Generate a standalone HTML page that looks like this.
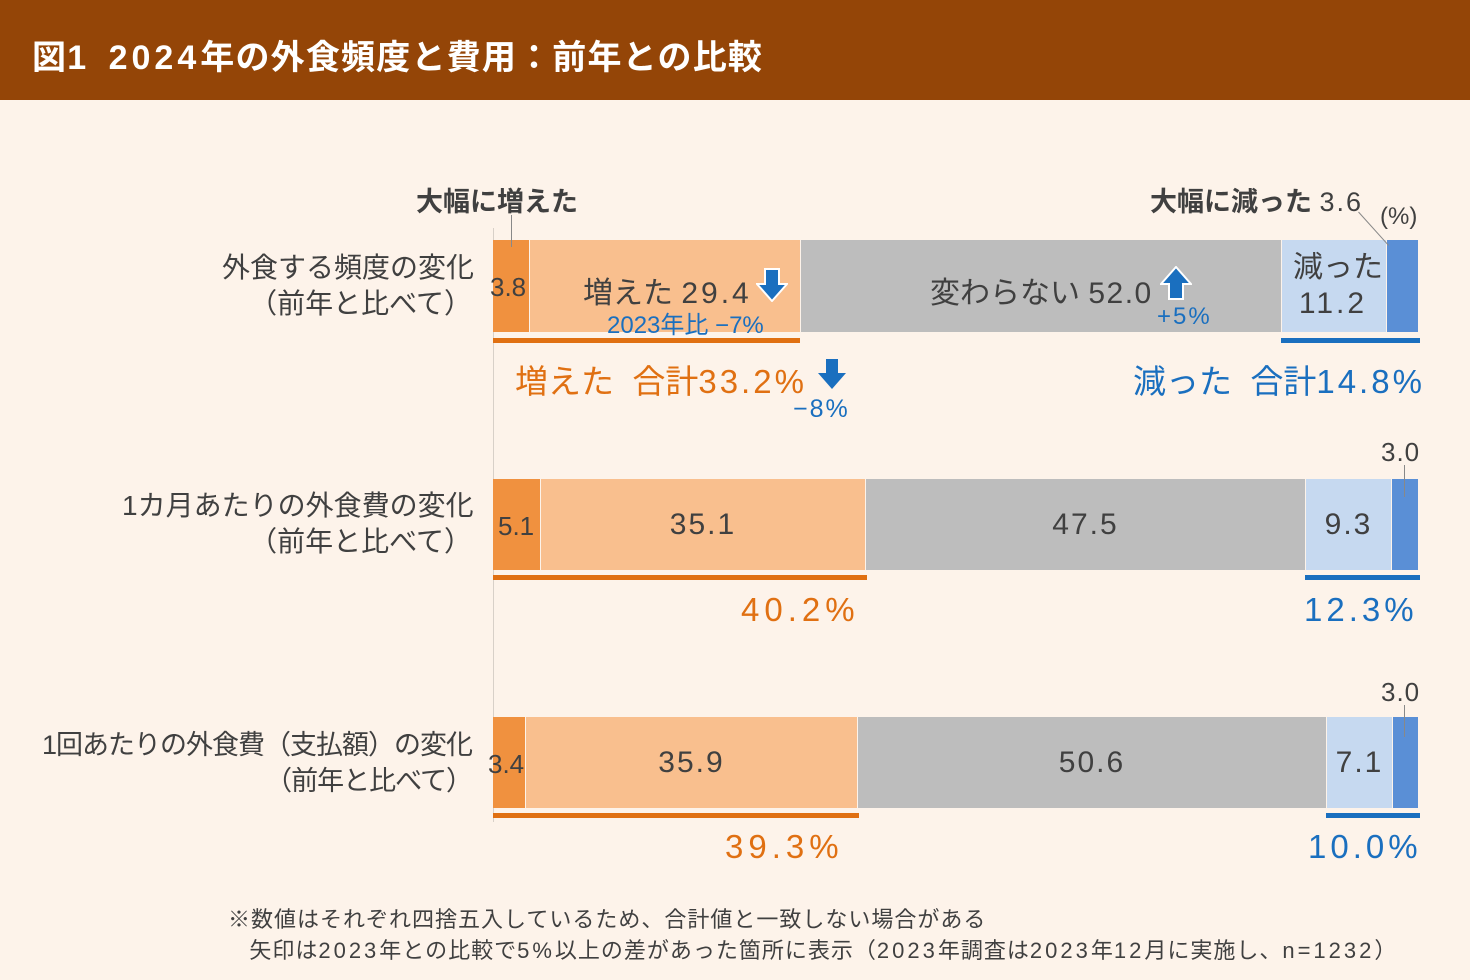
<!DOCTYPE html>
<html><head><meta charset="utf-8"><style>
body{margin:0;width:1470px;height:980px;background:#fdf3ea;position:relative;overflow:hidden;font-family:"Liberation Sans","Noto Sans CJK JP",sans-serif;color:#404040}
.a{position:absolute;white-space:nowrap}
.hd{left:0;top:0;width:1470px;height:100px;background:#944507}
.s{position:absolute}
.c{text-align:center;font-size:30px;line-height:92px;letter-spacing:2px}
.o{color:#e07012}.b{color:#1a6fbf}
.n{letter-spacing:3px}
</style></head><body>
<div class="a hd"></div>
<div class="a" style="left:32px;top:30px;font-size:34px;font-weight:bold;color:#fff;letter-spacing:1.2px">図1&nbsp; <span style="letter-spacing:4px">2024</span>年の外食頻度と費用：前年との比較</div>
<div class="a" style="left:493px;top:228px;width:1px;height:594px;background:#d8d0c8"></div>

<!-- row1 -->
<div class="s" style="left:493px;top:240px;width:36px;height:92px;background:#f0913f"></div>
<div class="s" style="left:530px;top:240px;width:270px;height:92px;background:#f9bf8e"></div>
<div class="s" style="left:801px;top:240px;width:480px;height:92px;background:#bdbdbd"></div>
<div class="s" style="left:1282px;top:240px;width:104px;height:92px;background:#c6d9f0"></div>
<div class="s" style="left:1387px;top:240px;width:31px;height:92px;background:#5a8fd6"></div>
<div class="s" style="left:493px;top:338px;width:307px;height:5px;background:#e07012"></div>
<div class="s" style="left:1281px;top:338px;width:139px;height:5px;background:#1a6fbf"></div>
<div class="a" style="left:490px;top:272px;font-size:26px">3.8</div>
<div class="a" style="left:583px;top:268px;font-size:30px">増えた <span class="n">29.4</span></div>
<div class="a b" style="left:607px;top:305px;font-size:24px">2023年比 −7%</div>
<div class="a" style="left:930px;top:268px;font-size:30px">変わらない <span style="letter-spacing:1.5px">52.0</span></div>
<div class="a b" style="left:1157px;top:303px;font-size:24px;letter-spacing:2px">+5%</div>
<div class="a" style="left:1293px;top:250px;font-size:30px;line-height:36px;text-align:center;width:80px">減った<br><span class="n">11.2</span></div>
<div class="a" style="left:416px;top:180px;font-size:27px;font-weight:bold">大幅に増えた</div>
<div class="s" style="left:511px;top:215px;width:1px;height:32px;background:#888"></div>
<div class="a" style="left:1150px;top:180px;font-size:27px"><b>大幅に減った</b> <span style="letter-spacing:2px">3.6</span></div>
<div class="a" style="left:1380px;top:203px;font-size:24px">(%)</div>
<div class="s" style="left:1358px;top:212px;width:1px;height:45px;background:#888;transform:rotate(-42deg);transform-origin:top"></div>
<div class="a o" style="left:515px;top:355px;font-size:33px">増えた&nbsp; 合計<span style="letter-spacing:3px">33.2%</span></div>
<div class="a b" style="left:793px;top:395px;font-size:25px;letter-spacing:2px">−8%</div>
<div class="a b" style="left:1133px;top:355px;font-size:33px">減った&nbsp; 合計<span style="letter-spacing:3px">14.8%</span></div>
<!-- arrows -->
<svg class="s" style="left:756px;top:268px" width="32" height="34"><path d="M9 1h14v15h8L16 33 1 16h8z" fill="#1a6fbf" stroke="#fff" stroke-width="2"/></svg>
<svg class="s" style="left:817px;top:358px" width="30" height="32"><path d="M9 1h12v14h8L15 31 1 15h8z" fill="#1a6fbf"/></svg>
<svg class="s" style="left:1160px;top:266px" width="32" height="34"><path d="M9 33h14V18h8L16 1 1 18h8z" fill="#1a6fbf" stroke="#fff" stroke-width="2"/></svg>
<div class="a" style="left:222px;top:250px;font-size:28px;text-align:right;line-height:36px;width:250px">外食する頻度の変化<br>（前年と比べて）</div>

<!-- row2 -->
<div class="s" style="left:493px;top:479px;width:47px;height:91px;background:#f0913f"></div>
<div class="s" style="left:541px;top:479px;width:324px;height:91px;background:#f9bf8e"></div>
<div class="s" style="left:866px;top:479px;width:439px;height:91px;background:#bdbdbd"></div>
<div class="s" style="left:1306px;top:479px;width:85px;height:91px;background:#c6d9f0"></div>
<div class="s" style="left:1392px;top:479px;width:26px;height:91px;background:#5a8fd6"></div>
<div class="s" style="left:493px;top:575px;width:374px;height:5px;background:#e07012"></div>
<div class="s" style="left:1305px;top:575px;width:115px;height:5px;background:#1a6fbf"></div>
<div class="a" style="left:498px;top:511px;font-size:26px">5.1</div>
<div class="a c" style="left:541px;top:479px;width:324px">35.1</div>
<div class="a c" style="left:866px;top:479px;width:439px">47.5</div>
<div class="a c" style="left:1306px;top:479px;width:85px">9.3</div>
<div class="a" style="left:1381px;top:437px;font-size:26px;letter-spacing:1px">3.0</div>
<div class="s" style="left:1404px;top:465px;width:1px;height:32px;background:#888"></div>
<div class="a o" style="left:741px;top:591px;font-size:33px;letter-spacing:5px">40.2%</div>
<div class="a b" style="left:1304px;top:591px;font-size:33px;letter-spacing:4px">12.3%</div>
<div class="a" style="left:122px;top:488px;font-size:28px;text-align:right;line-height:36px;width:350px">1カ月あたりの外食費の変化<br>（前年と比べて）</div>

<!-- row3 -->
<div class="s" style="left:493px;top:717px;width:32px;height:91px;background:#f0913f"></div>
<div class="s" style="left:526px;top:717px;width:331px;height:91px;background:#f9bf8e"></div>
<div class="s" style="left:858px;top:717px;width:468px;height:91px;background:#bdbdbd"></div>
<div class="s" style="left:1327px;top:717px;width:65px;height:91px;background:#c6d9f0"></div>
<div class="s" style="left:1393px;top:717px;width:25px;height:91px;background:#5a8fd6"></div>
<div class="s" style="left:493px;top:813px;width:366px;height:5px;background:#e07012"></div>
<div class="s" style="left:1326px;top:813px;width:94px;height:5px;background:#1a6fbf"></div>
<div class="a" style="left:488px;top:749px;font-size:26px">3.4</div>
<div class="a c" style="left:526px;top:717px;width:331px">35.9</div>
<div class="a c" style="left:858px;top:717px;width:468px">50.6</div>
<div class="a c" style="left:1327px;top:717px;width:65px">7.1</div>
<div class="a" style="left:1381px;top:677px;font-size:26px;letter-spacing:1px">3.0</div>
<div class="s" style="left:1404px;top:705px;width:1px;height:32px;background:#888"></div>
<div class="a o" style="left:725px;top:828px;font-size:33px;letter-spacing:5px">39.3%</div>
<div class="a b" style="left:1308px;top:828px;font-size:33px;letter-spacing:4px">10.0%</div>
<div class="a" style="left:22px;top:727px;font-size:27px;text-align:right;line-height:36px;width:450px;letter-spacing:-1px">1回あたりの外食費（支払額）の変化<br>（前年と比べて）</div>

<div class="a" style="left:228px;top:904px;font-size:22px;line-height:31px;letter-spacing:1px">※数値はそれぞれ四捨五入しているため、合計値と一致しない場合がある<br>&nbsp;&nbsp;&nbsp;矢印は<span style="letter-spacing:3px">2023</span>年との比較で<span style="letter-spacing:3px">5%</span>以上の差があった箇所に表示（<span style="letter-spacing:3px">2023</span>年調査は<span style="letter-spacing:3px">2023</span>年<span style="letter-spacing:3px">12</span>月に実施し、<span style="letter-spacing:3px">n=1232</span>）</div>
</body></html>
